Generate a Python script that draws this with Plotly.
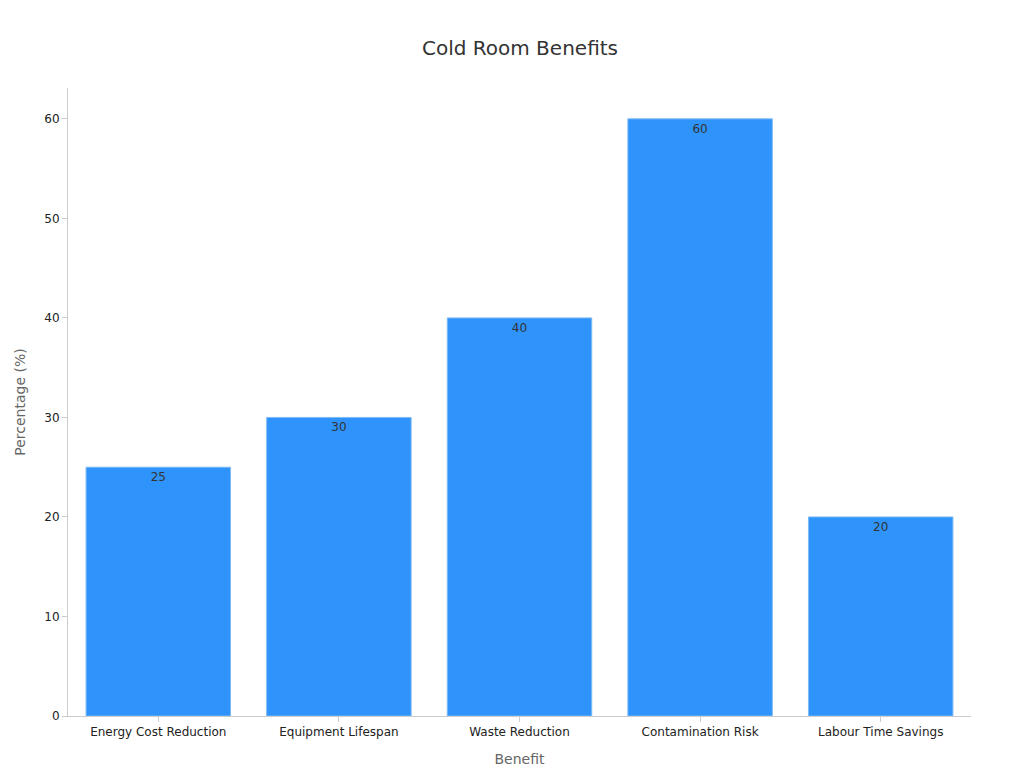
import plotly.graph_objects as go

benefits = ["Energy Cost Reduction", "Equipment Lifespan", "Waste Reduction",
            "Contamination Risk", "Labour Time Savings"]
percentages = [25, 30, 40, 60, 20]

fig = go.Figure()
fig.add_trace(go.Bar(
    x=benefits,
    y=percentages,
    text=percentages,
    textposition="inside",
    insidetextanchor="end",
    textfont=dict(color="#333333", size=12),
    marker=dict(color="#2e93fa", line=dict(color="#7fbaf5", width=1)),
    width=0.8,
))

fig.update_layout(
    title=dict(text="Cold Room Benefits", x=0.5, y=0.957, font=dict(size=20, color="#333333")),
    font=dict(family="DejaVu Sans", size=12, color="#222222"),
    plot_bgcolor="white",
    paper_bgcolor="white",
    width=1024, height=768,
    margin=dict(l=60, r=61, t=80, b=60),
    showlegend=False,
    xaxis=dict(title=dict(text="Benefit", font=dict(size=14, color="#666666")),
               showline=True, linecolor="#cccccc", ticks="outside", tickcolor="#cccccc",
               showgrid=False),
    yaxis=dict(title=dict(text="Percentage (%)", font=dict(size=14, color="#666666")),
               range=[0, 63.1], dtick=10, showline=True, linecolor="#cccccc",
               ticks="outside", tickcolor="#cccccc", showgrid=False, zeroline=False),
)

fig.write_html("out.html")
